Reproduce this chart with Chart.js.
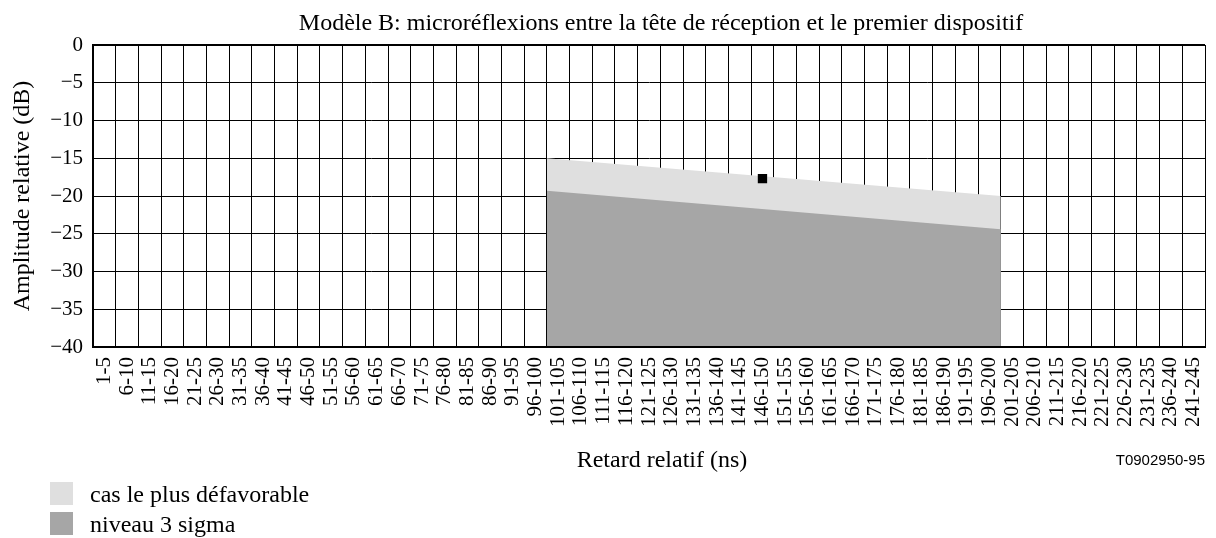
<!DOCTYPE html>
<html lang="fr">
<head>
<meta charset="utf-8">
<title>Modèle B: microréflexions</title>
<script src="https://cdn.jsdelivr.net/npm/chart.js@4.4.1/dist/chart.umd.min.js"></script>
<style>
  html, body { margin: 0; padding: 0; background: #fff; }
  canvas { display: block; }
</style>
</head>
<body>
<canvas id="chart" width="1216" height="538"></canvas>
<script>
// ── Data ──────────────────────────────────────────────────
const categories = [
  '1-5', '6-10', '11-15', '16-20', '21-25', '26-30', '31-35', '36-40', '41-45', '46-50',
  '51-55', '56-60', '61-65', '66-70', '71-75', '76-80', '81-85', '86-90', '91-95', '96-100',
  '101-105', '106-110', '111-115', '116-120', '121-125', '126-130', '131-135', '136-140',
  '141-145', '146-150', '151-155', '156-160', '161-165', '166-170', '171-175', '176-180',
  '181-185', '186-190', '191-195', '196-200', '201-205', '206-210', '211-215', '216-220',
  '221-225', '226-230', '231-235', '236-240', '241-245'
];
const bandEdges   = ['101-105', '196-200'];   // band runs from start of first to end of last
const worstCase   = [-15, -20];               // cas le plus défavorable
const sigmaLevel  = [-19.3, -24.4];           // niveau 3 sigma
const markCats    = ['146-150'];
const markValues  = [-17.7];
const yTicks      = [0, -5, -10, -15, -20, -25, -30, -35, -40];

const TITLE    = 'Modèle B: microréflexions entre la tête de réception et le premier dispositif';
const X_TITLE  = 'Retard relatif (ns)';
const Y_TITLE  = 'Amplitude relative (dB)';
const FIG_CODE = 'T0902950-95';

const SERIF = '"Liberation Serif", "Times New Roman", serif';
const SANS  = '"Liberation Sans", Arial, sans-serif';
const LIGHT = '#dfdfdf';
const DARK  = '#a6a6a6';

// band x positions on the hidden linear axis (category boundaries)
const bandX = [categories.indexOf(bandEdges[0]), categories.indexOf(bandEdges[1]) + 1];
const toPoints = vals => vals.map((y, i) => ({ x: bandX[i], y }));

// ── Titles, figure code and legend ────────────────────────
const annotations = {
  id: 'annotations',
  afterDraw(chart) {
    const { ctx, chartArea } = chart;
    ctx.save();
    ctx.fillStyle = '#000';
    ctx.textAlign = 'center';
    ctx.textBaseline = 'alphabetic';
    ctx.font = `24px ${SERIF}`;
    ctx.fillText(TITLE, 661, 30);
    ctx.fillText(X_TITLE, 662, 467);

    ctx.font = `15px ${SANS}`;
    ctx.textAlign = 'right';
    ctx.fillText(FIG_CODE, chartArea.right, 465);

    // legend, one entry per line (light band first)
    ctx.textAlign = 'left';
    ctx.font = `24px ${SERIF}`;
    const items = chart.data.datasets.filter(d => d.inLegend).sort((a, b) => b.order - a.order);
    items.forEach((d, i) => {
      const top = 482 + i * 30;
      ctx.fillStyle = d.backgroundColor;
      ctx.fillRect(50, top, 23, 23);
      ctx.fillStyle = '#000';
      ctx.fillText(d.label, 90, top + 20);
    });
    ctx.restore();
  }
};

new Chart(document.getElementById('chart'), {
  type: 'line',
  data: {
    labels: categories,
    datasets: [
      {
        label: 'point',
        data: markCats.map((c, i) => ({ x: c, y: markValues[i] })),
        showLine: false,
        pointStyle: 'rect',
        pointRadius: 6.6,
        pointHoverRadius: 6.6,
        pointBorderWidth: 0,
        pointBackgroundColor: '#000',
        order: 0
      },
      {
        label: 'niveau 3 sigma',
        inLegend: true,
        xAxisID: 'xl',
        data: toPoints(sigmaLevel),
        backgroundColor: DARK,
        borderWidth: 0,
        pointRadius: 0,
        fill: 'start',
        order: 1
      },
      {
        label: 'cas le plus défavorable',
        inLegend: true,
        xAxisID: 'xl',
        data: toPoints(worstCase),
        backgroundColor: LIGHT,
        borderWidth: 0,
        pointRadius: 0,
        fill: 'start',
        order: 2
      }
    ]
  },
  options: {
    responsive: false,
    animation: false,
    events: [],
    layout: { padding: { top: 45, right: 11, bottom: 71, left: 0 } },
    plugins: {
      legend: { display: false },
      tooltip: { enabled: false },
      title: { display: false }
    },
    scales: {
      x: {
        type: 'category',
        offset: true,
        grid: { offset: true, color: '#000', lineWidth: 1, drawTicks: false },
        border: { color: '#000', width: 2, z: 1 },
        ticks: {
          autoSkip: false,
          minRotation: 90,
          maxRotation: 90,
          padding: 10,
          color: '#000',
          font: { family: SERIF, size: 21 }
        },
        afterFit: s => { s.height = 120; s.paddingRight = 0; s.paddingLeft = 0; }
      },
      xl: {
        type: 'linear',
        display: false,
        min: 0,
        max: categories.length
      },
      y: {
        min: yTicks[yTicks.length - 1],
        max: yTicks[0],
        afterBuildTicks: s => { s.ticks = yTicks.map(v => ({ value: v })); },
        grid: {
          color: '#000',
          lineWidth: c => (c.tick && c.tick.value === yTicks[0] ? 2 : 1),
          drawTicks: false
        },
        border: { color: '#000', width: 2, z: 1 },
        ticks: {
          padding: 10,
          color: '#000',
          font: { family: SERIF, size: 21 },
          callback: v => (v < 0 ? '\u2212' + Math.abs(v) : String(v))
        },
        title: {
          display: true,
          text: Y_TITLE,
          color: '#000',
          font: { family: SERIF, size: 24 },
          padding: { top: 8, bottom: 0 }
        },
        afterFit: s => { s.width = 93; }
      }
    }
  },
  plugins: [annotations]
});
</script>
</body>
</html>
